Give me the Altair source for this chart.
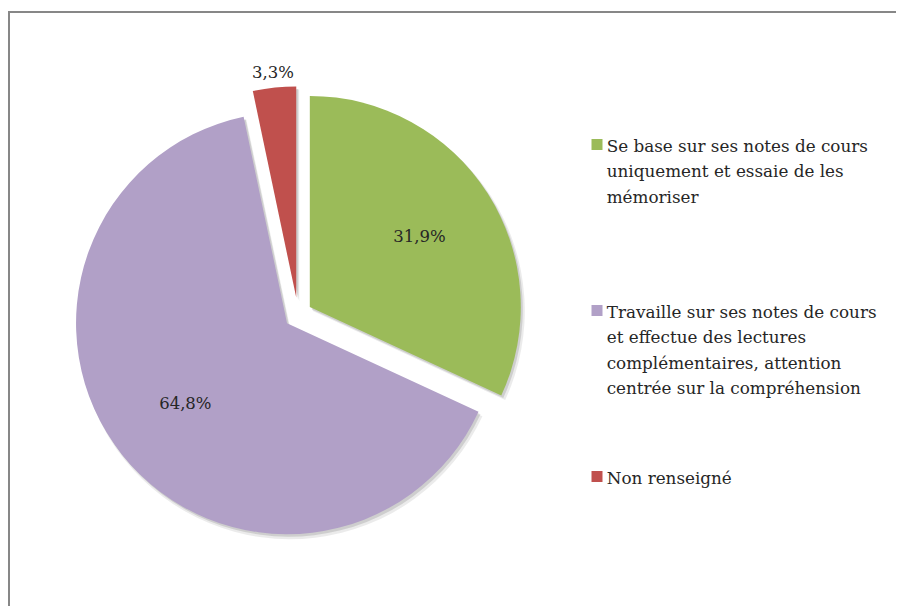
import altair as alt
import pandas as pd

# ---- data ----
categories = [
    "Se base sur ses notes de cours uniquement et essaie de les mémoriser",
    "Travaille sur ses notes de cours et effectue des lectures complémentaires, attention centrée sur la compréhension",
    "Non renseigné",
]
legend_lines = [
    ["Se base sur ses notes de cours", "uniquement et essaie de les", "mémoriser"],
    ["Travaille sur ses notes de cours", "et effectue des lectures",
     "complémentaires, attention", "centrée sur la compréhension"],
    ["Non renseigné"],
]
values = [31.9, 64.8, 3.3]
value_labels = ["31,9%", "64,8%", "3,3%"]

# ---- style ----
colors = ["#9BBB59", "#B1A0C7", "#C0504D"]
explode = [14, 14, 17]
FONT = "DejaVu Serif"
TEXT_COLOR = "#262626"
CX, CY, R = 290, 306.5, 211

df = pd.DataFrame({
    "category": categories,
    "value": values,
    "label": value_labels,
    "lines": legend_lines,
    "order": list(range(len(categories))),
    "explode": explode,
})

base = (
    alt.Chart(df)
    .transform_window(cum="sum(value)", sort=[alt.SortField("order")], frame=[None, 0])
    .transform_joinaggregate(total="sum(value)")
    .transform_calculate(
        start="2*PI*(datum.cum-datum.value)/datum.total",
        end="2*PI*datum.cum/datum.total",
    )
    .transform_calculate(mid="(datum.start+datum.end)/2")
    .transform_calculate(
        cx=f"{CX} + datum.explode*sin(datum.mid)",
        cy=f"{CY} - datum.explode*cos(datum.mid)",
        lr="datum.value < 5 ? 226 : 130",
    )
    .transform_calculate(
        lx="datum.cx + datum.lr*sin(datum.mid)",
        ly="datum.cy - datum.lr*cos(datum.mid)",
        legy="143.5 + datum.order*166",
    )
    .transform_calculate(symy="datum.legy - 7")
)

pos = dict(
    x=alt.X("cx:Q", scale=None),
    y=alt.Y("cy:Q", scale=None),
    theta=alt.Theta("start:Q", scale=None, stack=False),
    theta2=alt.Theta2("end:Q"),
)

shadow1 = base.mark_arc(radius=R + 1, color="#000000", opacity=0.08, xOffset=3, yOffset=4).encode(**pos)
shadow2 = base.mark_arc(radius=R, color="#000000", opacity=0.12, xOffset=2, yOffset=2.5).encode(**pos)

arcs = base.mark_arc(radius=R).encode(
    color=alt.Color("category:N", scale=alt.Scale(domain=categories, range=colors), legend=None),
    **pos,
)

labels = base.mark_text(font=FONT, fontSize=16.5, color=TEXT_COLOR).encode(
    x=alt.X("lx:Q", scale=None),
    y=alt.Y("ly:Q", scale=None),
    text="label:N",
)

leg_sym = base.mark_square(size=121, opacity=1).encode(
    x=alt.value(589),
    y=alt.Y("symy:Q", scale=None),
    color=alt.Color("category:N", scale=alt.Scale(domain=categories, range=colors), legend=None),
)

leg_text = base.mark_text(
    font=FONT, fontSize=16.8, color=TEXT_COLOR, align="left", baseline="alphabetic", lineHeight=25.5
).encode(
    x=alt.value(598.7),
    y=alt.Y("legy:Q", scale=None),
    text="lines",
)

one = pd.DataFrame({"k": [0]})
frame_top = alt.Chart(one).mark_rule(color="#878787", strokeWidth=2).encode(
    x=alt.value(0), x2=alt.value(888), y=alt.value(4), y2=alt.value(4)
)
frame_left = alt.Chart(one).mark_rule(color="#878787", strokeWidth=2).encode(
    x=alt.value(1), x2=alt.value(1), y=alt.value(3), y2=alt.value(598)
)
# white strip over the right edge of the drawing area (reference shows no right border)
edge_cover = alt.Chart(one).mark_rect(color="white").encode(
    x=alt.value(884), x2=alt.value(888), y=alt.value(5), y2=alt.value(598)
)

chart = (
    alt.layer(frame_top, frame_left, shadow1, shadow2, arcs, labels, leg_sym, leg_text, edge_cover)
    .properties(width=888, height=598, autosize=alt.AutoSizeParams(type="none"),
                padding=0, background="white")
    .configure_view(stroke="transparent", strokeWidth=0)
)

chart.save("out.html", embed_options={"renderer": "svg", "actions": False})
